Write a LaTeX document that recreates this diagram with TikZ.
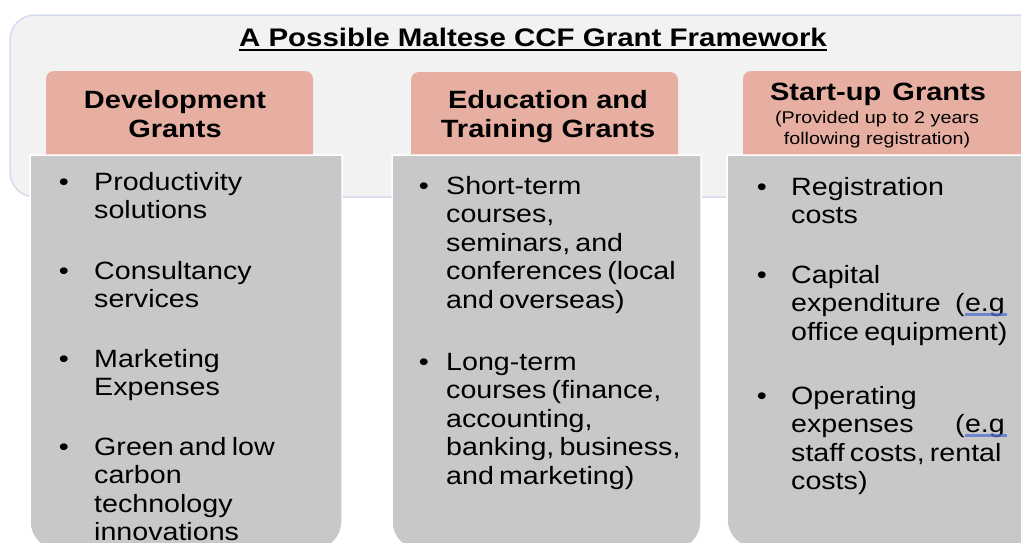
\documentclass[tikz,border=0pt]{standalone}
\usepackage{fontspec}
\setmainfont[FakeStretch=1.16]{Liberation Sans}
\newfontfamily\bodyfont[FakeStretch=1.145,WordSpace=0.65]{Liberation Sans}
\definecolor{panelbg}{HTML}{F2F2F2}
\definecolor{panelrim}{HTML}{D5DAF0}
\definecolor{headfill}{HTML}{E7AFA2}
\definecolor{bodyfill}{HTML}{C8C8C8}
\definecolor{spellblue}{HTML}{4F6FD0}

\begin{document}
\begin{tikzpicture}[x=1pt,y=-1pt,
  headbox/.style={fill=headfill, rounded corners=8pt},
  bodybox/.style={fill=bodyfill, draw=white, line width=1.5pt},
  itemline/.style={anchor=base west, inner sep=0pt, font=\bodyfont\fontsize{25}{29}\selectfont},
  itemdot/.style={anchor=base, inner sep=0pt, font=\bodyfont\fontsize{25}{29}\selectfont},
  headtext/.style={anchor=base, inner sep=0pt, font=\fontsize{25}{29}\selectfont\bfseries},
  subtext/.style={anchor=base, inner sep=0pt, font=\fontsize{17}{20}\selectfont}]
\useasboundingbox (0,0) rectangle (1021,542);
\clip (0,0) rectangle (1021,542);
\fill[white] (0,0) rectangle (1021,542);

% outer panel behind the three columns
\draw[fill=panelbg, draw=panelrim, line width=1.5pt, rounded corners=25pt] (10,15) rectangle (1080,197);

% title
\node[headtext, font=\fontsize{25.4}{29}\selectfont\bfseries] (title) at (533,46) {A Possible Maltese CCF Grant Framework};
\draw[line width=1.8pt] ([yshift=-4pt]title.base west) -- ([yshift=-4pt]title.base east);

% column headers
\fill[headbox] (46,71) rectangle (313,165);
\fill[headbox] (411,72) rectangle (678,165);
\fill[headbox] (743,71) rectangle (1060,165);

% column bodies: square top, rounded bottom
\draw[bodybox] (30,155) -- (342,155) -- (342,500) [rounded corners=28pt] -- (342,550) -- (30,550) [sharp corners] -- (30,500) -- cycle;
\draw[bodybox] (392,155) -- (701,155) -- (701,500) [rounded corners=28pt] -- (701,550) -- (392,550) [sharp corners] -- (392,500) -- cycle;
\draw[bodybox] (727,155) -- (1060,155) -- (1060,500) [rounded corners=28pt] -- (1060,548) -- (727,548) [sharp corners] -- (727,500) -- cycle;

% header texts
\node[headtext] (h1a) at (175,108) {Development};
\node[headtext] (h1b) at (175,137) {Grants};
\node[headtext] (h2a) at (548,108) {Education and};
\node[headtext] (h2b) at (548,137) {Training Grants};
\node[headtext] (h3a) at (878,100) {Start-up\hspace{0.45em}Grants};
\node[subtext] (h3b) at (877,123) {(Provided up to 2 years};
\node[subtext] (h3c) at (877,144) {following registration)};

% Development Grants
\foreach \y [count=\i] in {190,279,367,455}
  \node[itemdot] (da\i) at (64,\y) {•};
\foreach \y/\t [count=\i] in {190/Productivity, 218.5/solutions,
    279/Consultancy, 307.5/services,
    367/Marketing, 395.5/Expenses,
    455/Green and low, 483.5/carbon, 512/technology, 540.5/innovations}
  \node[itemline] (dl\i) at (94,\y) {\t};

% Education and Training Grants
\foreach \y [count=\i] in {194,370}
  \node[itemdot] (ea\i) at (424,\y) {•};
\foreach \y/\t [count=\i] in {194/Short-term, 222.5/{courses,}, 251/{seminars, and},
    279.5/conferences (local, 308/and overseas),
    370/Long-term, 398.5/{courses (finance,}, 427/{accounting,},
    455.5/{banking, business,}, 484/and marketing)}
  \node[itemline] (el\i) at (446,\y) {\t};

% Start-up Grants
\foreach \y [count=\i] in {195,283,404}
  \node[itemdot] (sa\i) at (762,\y) {•};
\foreach \y/\t [count=\i] in {195/Registration, 223.5/costs,
    283/Capital, 311.5/expenditure, 340/office equipment),
    404/Operating, 432.5/expenses, 461/{staff costs, rental}, 489.5/costs)}
  \node[itemline] (sl\i) at (791,\y) {\t};

% right-aligned "(e.g" with its blue underline
\node[itemline, anchor=base east] (eg1) at (1005,311.5) {e.g};
\node[itemline, anchor=base east] (pa1) at (eg1.base west) {(};
\node[itemline, anchor=base east] (eg2) at (1005,432.5) {e.g};
\node[itemline, anchor=base east] (pa2) at (eg2.base west) {(};
\draw[spellblue, line width=3pt, opacity=0.75] ([yshift=-3pt]eg1.base west) -- ([yshift=-3pt,xshift=2pt]eg1.base east);
\draw[spellblue, line width=3pt, opacity=0.75] ([yshift=-3pt]eg2.base west) -- ([yshift=-3pt,xshift=2pt]eg2.base east);
\end{tikzpicture}
\end{document}
